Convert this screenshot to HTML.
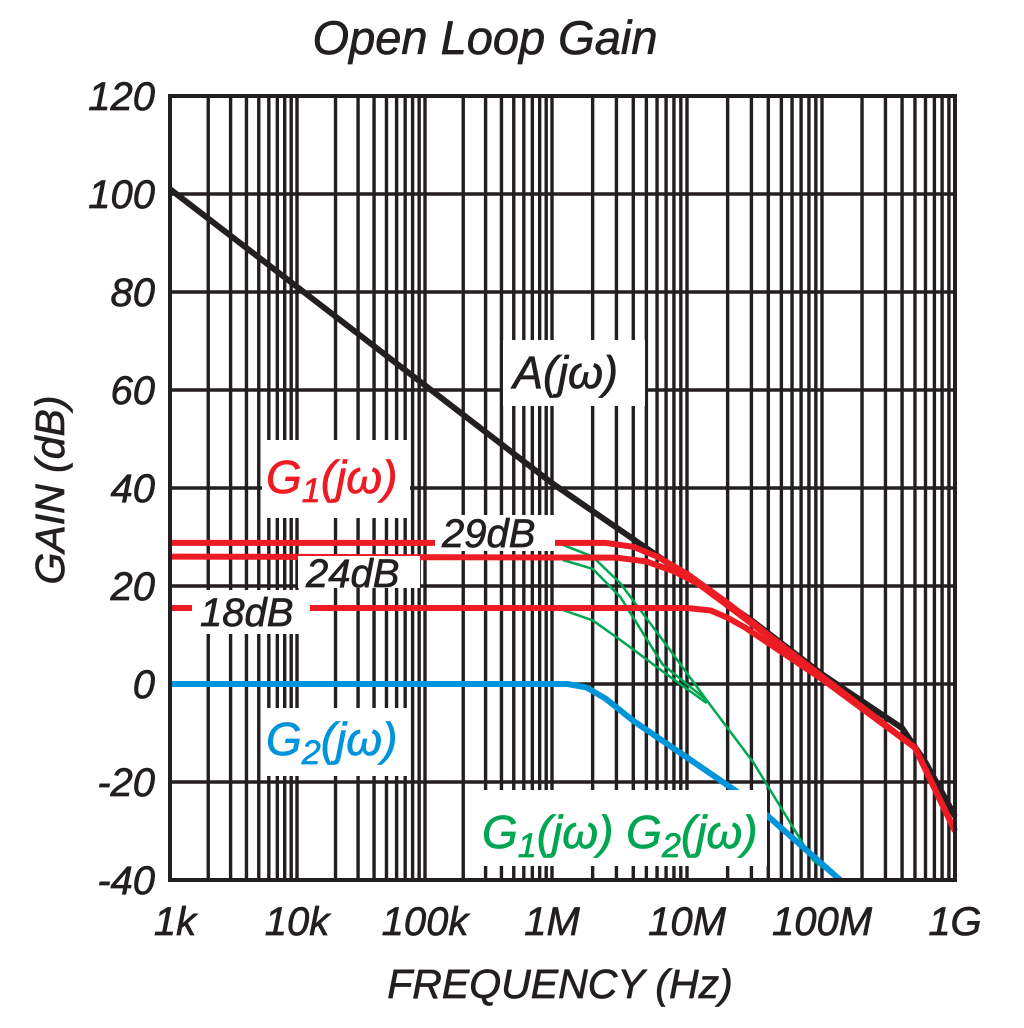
<!DOCTYPE html>
<html><head><meta charset="utf-8">
<style>
html,body{margin:0;padding:0;background:#fff;}
svg{display:block;}
text{font-family:"Liberation Sans",sans-serif;font-style:italic;stroke-width:0.7;}
</style></head>
<body>
<svg id="chart" width="1024" height="1028" viewBox="0 0 1024 1028" xmlns="http://www.w3.org/2000/svg">
<text x="485" y="54" font-size="47" text-anchor="middle" fill="#231f20" stroke="#231f20">Open Loop Gain</text>
<g id="grid"></g>
<g id="series"></g>
<g id="labels"></g>
<g id="axes"></g>
<text x="560" y="998" font-size="41" text-anchor="middle" fill="#231f20" stroke="#231f20">FREQUENCY (Hz)</text>
<text transform="translate(64,490) rotate(-90)" font-size="41" text-anchor="middle" fill="#231f20" stroke="#231f20">GAIN (dB)</text>
</svg>
<script>
// ---- data ----
const xTickLabels = ["1k","10k","100k","1M","10M","100M","1G"];
const yTicks = [120,100,80,60,40,20,0,-20,-40];
const aFreq = [1e3,1e6,1e7,3e7,1e8,4e8,6e8,1e9];
const aGain = [101,41,22,13,2,-9,-16,-27];
const g1aFreq = [1e3,2.5e6,4e6,6e6,1e7,2e7,1e8,5e8,1e9];
const g1aGain = [28.8,28.8,28,26,22.5,16.5,1.5,-13,-30];
const g1bFreq = [1e3,3e6,5e6,8e6,1.2e7,2e7,1e8,5e8,1e9];
const g1bGain = [26,25.8,25,23,20.5,16,1.5,-13,-30];
const g1cFreq = [1e3,1e7,1.5e7,2e7,2.7e7,1e8,5e8,1e9];
const g1cGain = [15.5,15.5,15,13.5,11.5,1,-13,-30];
const g2Freq = [1e3,1.3e6,1.8e6,2.5e6,4e6,1e7,3e7,1.37e8];
const g2Gain = [0,0,-0.7,-3,-7.5,-15,-24,-40];
const gg1Freq = [1.2e6,2e6,3.2e6,6.6e6,1.4e7,3.1e7,8.6e7,1.37e8];
const gg1Gain = [28.4,26,20.6,9,-3.3,-16,-36,-40];
const gg2Freq = [1.2e6,2e6,3.2e6,6.6e6,1.4e7];
const gg2Gain = [25.3,23.5,17.8,4,-3.3];
const gg3Freq = [1.2e6,2e6,3.2e6,6.9e6,1.4e7];
const gg3Gain = [15.1,13,9,2.2,-3.9];

// ---- axes ----
const decadePx = [170,297,425,552,687,822,955];
function xs(f){
  const l = Math.log10(f) - 3;
  const i = Math.max(0, Math.min(5, Math.floor(l)));
  return decadePx[i] + (l - i) * (decadePx[i+1] - decadePx[i]);
}
function ys(v){ return 880 - (v + 40) * 4.9; }
const NS = "http://www.w3.org/2000/svg";
function mk(tag, attrs, parent){
  const e = document.createElementNS(NS, tag);
  for (const k in attrs) e.setAttribute(k, attrs[k]);
  parent.appendChild(e); return e;
}
const grid = document.getElementById('grid');
for (let d = 0; d < 6; d++){
  for (let m = 2; m <= 9; m++){
    const x = xs(Math.pow(10, d + 3) * m);
    const l = mk('line', {x1:x, x2:x, y1:ys(120), y2:ys(-40), stroke:'#231f20', 'stroke-width':3.4}, grid);
    
    
  }
  if (d > 0){
    const x = xs(Math.pow(10, d + 3));
    const l = mk('line', {x1:x, x2:x, y1:ys(120), y2:ys(-40), stroke:'#231f20', 'stroke-width':3.4}, grid);
    
    
  }
}
yTicks.forEach(v => {
  const l = mk('line', {x1:xs(1e3), x2:xs(1e9), y1:ys(v), y2:ys(v), stroke:'#231f20', 'stroke-width':3.4}, grid);
  
  
});
const axes = document.getElementById('axes');
const frame = mk('rect', {x:xs(1e3), y:ys(120), width:xs(1e9)-xs(1e3), height:ys(-40)-ys(120), fill:'none', stroke:'#231f20', 'stroke-width':4}, axes);


yTicks.forEach(v => {
  const t = mk('text', {x:155, y:ys(v)+14, 'font-size':40, 'text-anchor':'end', fill:'#231f20', stroke:'#231f20'}, axes);
  t.textContent = v;
  
  
});
xTickLabels.forEach((s, i) => {
  let x = xs(Math.pow(10, i + 3));
  if (i === 0) x += 5;
  const t = mk('text', {x:x, y:935, 'font-size':40, 'text-anchor':'middle', fill:'#231f20', stroke:'#231f20'}, axes);
  t.textContent = s;
  
  
});

// ---- series ----
const series = document.getElementById('series');
function line(fr, g, color, w, name){
  const pts = fr.map((f, i) => xs(f).toFixed(1) + ',' + ys(g[i]).toFixed(1)).join(' ');
  const p = mk('polyline', {points:pts, fill:'none', stroke:color, 'stroke-width':w, 'stroke-linejoin':'round'}, series);
  
  
}
line(gg1Freq, gg1Gain, '#00a651', 2.5, 'g1g2-line-29db');
line(gg2Freq, gg2Gain, '#00a651', 2.5, 'g1g2-line-24db');
line(gg3Freq, gg3Gain, '#00a651', 2.5, 'g1g2-line-18db');
line(aFreq, aGain, '#231f20', 6, 'a-jw-line');
line(g1aFreq, g1aGain, '#ed1c24', 6, 'g1-line-29db');
line(g1bFreq, g1bGain, '#ed1c24', 6, 'g1-line-24db');
line(g1cFreq, g1cGain, '#ed1c24', 6, 'g1-line-18db');
line(g2Freq, g2Gain, '#0095da', 6, 'g2-jw-line');
</script>
<svg style="position:absolute;left:0;top:0" width="1024" height="1028">
<rect x="503" y="340" width="142" height="66" fill="#fff"/>
<text x="513" y="388" font-size="45" fill="#231f20" stroke="#231f20" style="font-family:'Liberation Sans',sans-serif;font-style:italic;stroke-width:0.7">A(jω)</text>
<rect x="262" y="440" width="148" height="78" fill="#fff"/>
<text x="266" y="493" font-size="46" fill="#ed1c24" stroke="#ed1c24" style="font-family:'Liberation Sans',sans-serif;font-style:italic;stroke-width:0.7">G<tspan font-size="34" dy="9">1</tspan><tspan dy="-9">(jω)</tspan></text>
<rect x="435" y="515" width="120" height="36" fill="#fff"/>
<text x="442" y="547" font-size="40" fill="#231f20" stroke="#231f20" style="font-family:'Liberation Sans',sans-serif;font-style:italic;stroke-width:0.7">29dB</text>
<rect x="298" y="556" width="122" height="32" fill="#fff"/>
<text x="306" y="587" font-size="40" fill="#231f20" stroke="#231f20" style="font-family:'Liberation Sans',sans-serif;font-style:italic;stroke-width:0.7">24dB</text>
<rect x="192" y="590" width="118" height="44" fill="#fff"/>
<text x="200" y="626" font-size="40" fill="#231f20" stroke="#231f20" style="font-family:'Liberation Sans',sans-serif;font-style:italic;stroke-width:0.7">18dB</text>
<rect x="262" y="708" width="148" height="68" fill="#fff"/>
<text x="266" y="755" font-size="46" fill="#0095da" stroke="#0095da" style="font-family:'Liberation Sans',sans-serif;font-style:italic;stroke-width:0.7">G<tspan font-size="34" dy="9">2</tspan><tspan dy="-9">(jω)</tspan></text>
<rect x="475" y="790" width="292" height="76" fill="#fff"/>
<text x="482" y="848" font-size="46" fill="#00a651" stroke="#00a651" style="font-family:'Liberation Sans',sans-serif;font-style:italic;stroke-width:0.7">G<tspan font-size="34" dy="9">1</tspan><tspan dy="-9">(jω) G</tspan><tspan font-size="34" dy="9">2</tspan><tspan dy="-9">(jω)</tspan></text>
</svg>
</body></html>
